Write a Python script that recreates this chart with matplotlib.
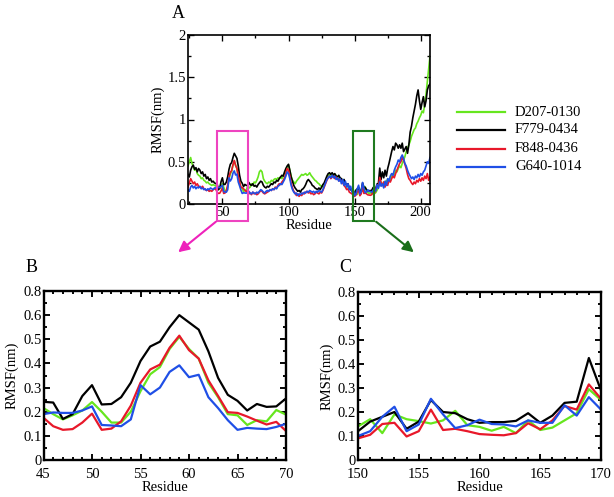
import numpy as np
import matplotlib
matplotlib.use('Agg')
import matplotlib.pyplot as plt
from matplotlib.patches import Rectangle
from matplotlib.lines import Line2D
from matplotlib.ticker import MultipleLocator, FixedLocator, FixedFormatter

plt.rcParams['font.family'] = ['Liberation Serif', 'DejaVu Serif']

names = ['D207-0130', 'F779-0434', 'F848-0436', 'G640-1014']
colors = ['#66e61e', '#000000', '#e8182a', '#1f4fe6']

# ---------------- Panel A : residues 24-207 ----------------
resA = np.arange(24, 208)
d207_A = [0.45, 0.50, 0.55, 0.48, 0.44, 0.40, 0.42, 0.36, 0.34, 0.33,
          0.30, 0.31, 0.28, 0.27, 0.25, 0.26, 0.24, 0.23, 0.22, 0.23,
          0.22, 0.215, 0.19, 0.168, 0.185, 0.205, 0.24, 0.20, 0.155, 0.155,
          0.20, 0.285, 0.355, 0.385, 0.46, 0.51, 0.46, 0.42, 0.32, 0.26,
          0.19, 0.185, 0.145, 0.165, 0.16, 0.207, 0.188, 0.20, 0.24, 0.22,
          0.26, 0.25, 0.28, 0.32, 0.38, 0.40, 0.38, 0.30, 0.27, 0.25,
          0.24, 0.26, 0.25, 0.28, 0.27, 0.29, 0.30, 0.29, 0.31, 0.30,
          0.32, 0.30, 0.33, 0.36, 0.40, 0.44, 0.46, 0.40, 0.33, 0.28,
          0.26, 0.24, 0.27, 0.29, 0.31, 0.33, 0.35, 0.34, 0.35, 0.36,
          0.34, 0.35, 0.37, 0.34, 0.32, 0.30, 0.28, 0.27, 0.25, 0.24,
          0.22, 0.21, 0.20, 0.23, 0.27, 0.31, 0.34, 0.35, 0.33, 0.36,
          0.35, 0.33, 0.34, 0.31, 0.32, 0.30, 0.28, 0.29, 0.26, 0.24,
          0.22, 0.20, 0.18, 0.17, 0.16, 0.15, 0.14, 0.17, 0.112, 0.19,
          0.17, 0.162, 0.152, 0.165, 0.205, 0.145, 0.138, 0.122, 0.138, 0.112,
          0.165, 0.125, 0.135, 0.165, 0.195, 0.295, 0.25, 0.22, 0.26, 0.23,
          0.28, 0.25, 0.30, 0.28, 0.33, 0.36, 0.34, 0.40, 0.38, 0.42,
          0.45, 0.43, 0.48, 0.52, 0.56, 0.62, 0.66, 0.70, 0.74, 0.80,
          0.84, 0.88, 0.90, 0.95, 0.98, 1.02, 1.05, 1.10, 1.08, 1.18,
          1.30, 1.45, 1.60, 1.75]
f779_A = [0.35, 0.32, 0.40, 0.44, 0.46, 0.41, 0.43, 0.38, 0.42, 0.40,
          0.36, 0.38, 0.33, 0.35, 0.30, 0.32, 0.28, 0.30, 0.26, 0.27,
          0.25, 0.241, 0.238, 0.17, 0.19, 0.265, 0.31, 0.23, 0.232, 0.26,
          0.32, 0.41, 0.47, 0.49, 0.55, 0.60, 0.57, 0.54, 0.45, 0.34,
          0.27, 0.245, 0.205, 0.232, 0.22, 0.222, 0.255, 0.23, 0.22, 0.24,
          0.21, 0.22, 0.20, 0.23, 0.25, 0.27, 0.26, 0.22, 0.20, 0.19,
          0.21, 0.20, 0.22, 0.24, 0.23, 0.26, 0.25, 0.28, 0.27, 0.30,
          0.32, 0.34, 0.33, 0.38, 0.42, 0.45, 0.47, 0.40, 0.32, 0.27,
          0.22, 0.19, 0.17, 0.15, 0.16, 0.14, 0.17, 0.18, 0.20, 0.23,
          0.27, 0.29, 0.27, 0.25, 0.22, 0.21, 0.19, 0.18, 0.17, 0.19,
          0.17, 0.20, 0.23, 0.25, 0.29, 0.33, 0.36, 0.37, 0.35, 0.37,
          0.34, 0.36, 0.33, 0.32, 0.34, 0.31, 0.30, 0.27, 0.29, 0.25,
          0.22, 0.24, 0.19, 0.17, 0.16, 0.15, 0.12, 0.16, 0.18, 0.20,
          0.13, 0.16, 0.25, 0.20, 0.195, 0.17, 0.155, 0.158, 0.158, 0.163,
          0.195, 0.155, 0.185, 0.238, 0.243, 0.425, 0.29, 0.38, 0.31, 0.40,
          0.33, 0.42, 0.48, 0.55, 0.62, 0.68, 0.64, 0.72, 0.70, 0.66,
          0.70, 0.66, 0.72, 0.62, 0.65, 0.68, 0.60, 0.70, 0.85, 0.92,
          1.02, 1.10, 1.18, 1.28, 1.35, 1.22, 1.12, 1.20, 1.27, 1.15,
          1.22, 1.35, 1.40, 1.42]
f848_A = [0.20, 0.25, 0.30, 0.27, 0.24, 0.26, 0.22, 0.24, 0.21, 0.20,
          0.19, 0.21, 0.18, 0.17, 0.16, 0.17, 0.15, 0.16, 0.15, 0.17,
          0.18, 0.175, 0.14, 0.125, 0.128, 0.155, 0.192, 0.125, 0.13, 0.16,
          0.225, 0.32, 0.375, 0.395, 0.465, 0.515, 0.455, 0.42, 0.33, 0.265,
          0.198, 0.195, 0.18, 0.163, 0.147, 0.158, 0.12, 0.13, 0.11, 0.14,
          0.12, 0.13, 0.11, 0.12, 0.14, 0.16, 0.15, 0.13, 0.12, 0.13,
          0.14, 0.15, 0.17, 0.16, 0.18, 0.17, 0.20, 0.19, 0.22, 0.24,
          0.23, 0.26, 0.28, 0.31, 0.36, 0.42, 0.40, 0.33, 0.25, 0.19,
          0.15, 0.13, 0.10, 0.12, 0.09, 0.11, 0.10, 0.13, 0.12, 0.14,
          0.15, 0.13, 0.14, 0.12, 0.13, 0.11, 0.12, 0.14, 0.13, 0.12,
          0.14, 0.13, 0.16, 0.20, 0.24, 0.28, 0.31, 0.33, 0.30, 0.32,
          0.33, 0.30, 0.32, 0.29, 0.30, 0.27, 0.28, 0.25, 0.22, 0.20,
          0.17, 0.18, 0.14, 0.13, 0.12, 0.11, 0.09, 0.105, 0.15, 0.155,
          0.098, 0.12, 0.21, 0.125, 0.13, 0.12, 0.108, 0.105, 0.103, 0.112,
          0.153, 0.128, 0.165, 0.225, 0.21, 0.315, 0.255, 0.22, 0.26, 0.20,
          0.25, 0.22, 0.28, 0.26, 0.30, 0.33, 0.31, 0.36, 0.40, 0.44,
          0.48, 0.50, 0.55, 0.52, 0.47, 0.42, 0.35, 0.30, 0.28, 0.25,
          0.23, 0.26, 0.24, 0.28, 0.26, 0.30, 0.27, 0.31, 0.28, 0.33,
          0.30, 0.36, 0.28, 0.32]
g640_A = [0.17, 0.15, 0.20, 0.22, 0.19, 0.21, 0.18, 0.20, 0.19, 0.21,
          0.18, 0.19, 0.17, 0.18, 0.16, 0.18, 0.17, 0.19, 0.18, 0.17,
          0.19, 0.19, 0.197, 0.195, 0.195, 0.205, 0.222, 0.145, 0.143, 0.14,
          0.168, 0.31, 0.272, 0.30, 0.365, 0.392, 0.343, 0.353, 0.26, 0.215,
          0.165, 0.125, 0.133, 0.13, 0.128, 0.137, 0.15, 0.13, 0.12, 0.14,
          0.13, 0.12, 0.14, 0.13, 0.15, 0.17, 0.16, 0.14, 0.13, 0.15,
          0.16, 0.15, 0.17, 0.16, 0.18, 0.17, 0.19, 0.18, 0.21, 0.22,
          0.24, 0.23, 0.26, 0.29, 0.33, 0.38, 0.36, 0.30, 0.22, 0.17,
          0.14, 0.12, 0.13, 0.10, 0.12, 0.11, 0.13, 0.12, 0.14, 0.13,
          0.15, 0.14, 0.16, 0.15, 0.14, 0.15, 0.13, 0.15, 0.14, 0.16,
          0.15, 0.14, 0.17, 0.21, 0.25, 0.29, 0.31, 0.33, 0.31, 0.34,
          0.31, 0.33, 0.29, 0.31, 0.27, 0.30, 0.24, 0.29, 0.22, 0.27,
          0.20, 0.24, 0.17, 0.21, 0.14, 0.17, 0.10, 0.12, 0.18, 0.222,
          0.12, 0.148, 0.255, 0.19, 0.133, 0.145, 0.168, 0.15, 0.148, 0.14,
          0.165, 0.155, 0.155, 0.228, 0.185, 0.262, 0.21, 0.24, 0.19, 0.27,
          0.22, 0.30, 0.27, 0.33, 0.36, 0.34, 0.40, 0.44, 0.47, 0.52,
          0.50, 0.55, 0.58, 0.54, 0.48, 0.45, 0.40, 0.36, 0.33, 0.30,
          0.32, 0.29, 0.33, 0.31, 0.35, 0.32, 0.36, 0.34, 0.38, 0.40,
          0.45, 0.50, 0.48, 0.55]

# ---------------- Panel B : residues 45-70 ----------------
resB = np.arange(45, 71)
d207_B = [0.215, 0.19, 0.168, 0.185, 0.205, 0.24, 0.20, 0.155, 0.155, 0.20,
          0.285, 0.355, 0.385, 0.46, 0.51, 0.46, 0.42, 0.32, 0.26, 0.19,
          0.185, 0.145, 0.165, 0.16, 0.207, 0.188]
f779_B = [0.241, 0.238, 0.17, 0.19, 0.265, 0.31, 0.23, 0.232, 0.26, 0.32,
          0.41, 0.47, 0.49, 0.55, 0.60, 0.57, 0.54, 0.45, 0.34, 0.27,
          0.245, 0.205, 0.232, 0.22, 0.222, 0.255]
f848_B = [0.175, 0.14, 0.125, 0.128, 0.155, 0.192, 0.125, 0.13, 0.16, 0.225,
          0.32, 0.375, 0.395, 0.465, 0.515, 0.455, 0.42, 0.33, 0.265, 0.198,
          0.195, 0.18, 0.163, 0.147, 0.158, 0.12]
g640_B = [0.19, 0.197, 0.195, 0.195, 0.205, 0.222, 0.145, 0.143, 0.14, 0.168,
          0.31, 0.272, 0.30, 0.365, 0.392, 0.343, 0.353, 0.26, 0.215, 0.165,
          0.125, 0.133, 0.13, 0.128, 0.137, 0.15]

# ---------------- Panel C : residues 150-170 ----------------
resC = np.arange(150, 171)
d207_C = [0.14, 0.17, 0.112, 0.19, 0.17, 0.162, 0.152, 0.165, 0.205, 0.145,
          0.138, 0.122, 0.138, 0.112, 0.165, 0.125, 0.135, 0.165, 0.195, 0.295,
          0.25]
f779_C = [0.12, 0.16, 0.18, 0.20, 0.13, 0.16, 0.25, 0.20, 0.195, 0.17,
          0.155, 0.158, 0.158, 0.163, 0.195, 0.155, 0.185, 0.238, 0.243, 0.425,
          0.29]
f848_C = [0.09, 0.105, 0.15, 0.155, 0.098, 0.12, 0.21, 0.125, 0.13, 0.12,
          0.108, 0.105, 0.103, 0.112, 0.153, 0.128, 0.165, 0.225, 0.21, 0.315,
          0.255]
g640_C = [0.10, 0.12, 0.18, 0.222, 0.12, 0.148, 0.255, 0.19, 0.133, 0.145,
          0.168, 0.15, 0.148, 0.14, 0.165, 0.155, 0.155, 0.228, 0.185, 0.262,
          0.21]

sub_yticks = [0, 0.1, 0.2, 0.3, 0.4, 0.5, 0.6, 0.7]
sub_ylabels = ['0', '0.1', '0.2', '0.3', '0.4', '0.5', '0.6', '0.8']

W, H = 614, 497
fig = plt.figure(figsize=(W / 100, H / 100), dpi=100)


def box(l, t, r, b):
    return [l / W, 1 - b / H, (r - l) / W, (b - t) / H]


def style(ax, lw, xpad=1.5):
    for s in ax.spines.values():
        s.set_linewidth(lw)
    ax.tick_params(which='both', direction='in', top=True, right=True,
                   labelsize=10.5, width=lw * 0.8)
    ax.tick_params(axis='y', which='both', pad=1.5)
    ax.tick_params(axis='x', which='both', pad=xpad)
    ax.tick_params(which='major', length=4)
    ax.tick_params(which='minor', length=2.5)


# Panel A
axA = fig.add_axes(box(188, 35, 430, 204))
for vals, c in zip([d207_A, f779_A, f848_A, g640_A], colors):
    axA.plot(resA, vals, color=c, lw=1.2)
axA.set_xlim(24, 207)
axA.set_ylim(0, 2)
axA.xaxis.set_major_locator(FixedLocator([50, 100, 150, 200]))
axA.xaxis.set_minor_locator(FixedLocator([25, 75, 125, 175]))
axA.yaxis.set_major_locator(FixedLocator([0, 0.5, 1, 1.5, 2]))
axA.yaxis.set_major_formatter(FixedFormatter(['0', '0.5', '1', '1.5', '2']))
axA.yaxis.set_minor_locator(MultipleLocator(0.25))
style(axA, 1.2)
axA.set_xlabel('Residue', fontsize=10.5, labelpad=0)
axA.set_ylabel('RMSF(nm)', fontsize=10.5, labelpad=2)

axA.add_patch(Rectangle((46, -0.2), 23, 1.065, fill=False, ec='#ee44c0',
                        lw=1.5, clip_on=False, zorder=5))
axA.add_patch(Rectangle((149, -0.2), 16, 1.065, fill=False, ec='#1f7a1f',
                        lw=1.5, clip_on=False, zorder=5))

fig.text(178 / W, 1 - 13 / H, 'A', fontsize=13, ha='center', va='center')

# Arrows
fig.add_artist(matplotlib.patches.FancyArrowPatch(
    (218 / W, 1 - 220 / H), (176 / W, 1 - 254 / H), transform=fig.transFigure,
    arrowstyle='-|>', mutation_scale=16, color='#ee22bb', lw=1.5))
fig.add_artist(matplotlib.patches.FancyArrowPatch(
    (374 / W, 1 - 220 / H), (416 / W, 1 - 254 / H), transform=fig.transFigure,
    arrowstyle='-|>', mutation_scale=16, color='#1a6e1a', lw=1.5))

# Legend
leg_y = [112, 130, 148.5, 167]
for y, n, c in zip(leg_y, names, colors):
    fig.add_artist(Line2D([457 / W, 505 / W], [1 - y / H, 1 - y / H],
                          color=c, lw=1.6, transform=fig.transFigure))
    fig.text(515 / W, 1 - y / H, n, fontsize=10.5, ha='left', va='center')

# Panel B
axB = fig.add_axes(box(43.5, 291, 286, 460))
for vals, c in zip([d207_B, f779_B, f848_B, g640_B], colors):
    axB.plot(resB, vals, color=c, lw=1.6)
axB.set_xlim(45, 70)
axB.set_ylim(0, 0.7)
axB.xaxis.set_major_locator(MultipleLocator(5))
axB.xaxis.set_minor_locator(MultipleLocator(1))
axB.yaxis.set_major_locator(FixedLocator(sub_yticks))
axB.yaxis.set_major_formatter(FixedFormatter(sub_ylabels))
axB.yaxis.set_minor_locator(MultipleLocator(0.05))
style(axB, 1.7, xpad=5.5)
axB.set_xlabel('Residue', fontsize=10.5, labelpad=0.5)
axB.set_ylabel('RMSF(nm)', fontsize=10.5, labelpad=3)
fig.text(32 / W, 1 - 267 / H, 'B', fontsize=13, ha='center', va='center')

# Panel C
axC = fig.add_axes(box(358, 292, 601, 460))
for vals, c in zip([d207_C, f779_C, f848_C, g640_C], colors):
    axC.plot(resC, vals, color=c, lw=1.6)
axC.set_xlim(150, 170)
axC.set_ylim(0, 0.7)
axC.xaxis.set_major_locator(MultipleLocator(5))
axC.xaxis.set_minor_locator(MultipleLocator(1))
axC.yaxis.set_major_locator(FixedLocator(sub_yticks))
axC.yaxis.set_major_formatter(FixedFormatter(sub_ylabels))
axC.yaxis.set_minor_locator(MultipleLocator(0.05))
style(axC, 1.7, xpad=5.5)
axC.set_xlabel('Residue', fontsize=10.5, labelpad=0.5)
axC.set_ylabel('RMSF(nm)', fontsize=10.5, labelpad=3)
fig.text(345 / W, 1 - 267 / H, 'C', fontsize=13, ha='center', va='center')

fig.savefig('out.png', dpi=100)
